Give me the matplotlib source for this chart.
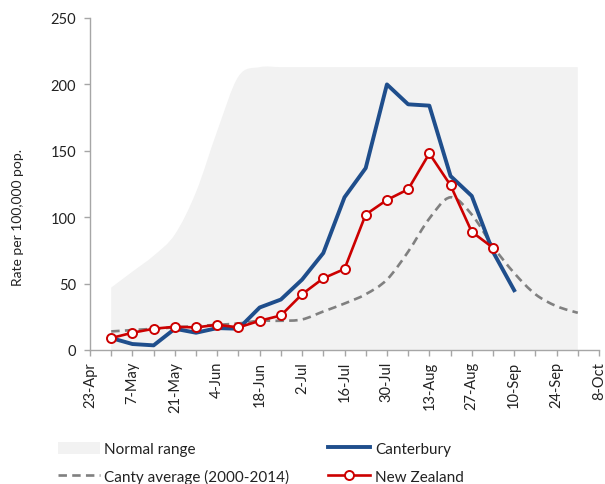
import matplotlib
matplotlib.use("Agg")
import matplotlib.pyplot as plt
from matplotlib.path import Path
from matplotlib.patches import PathPatch, Patch
from matplotlib.lines import Line2D
import numpy as np

plt.rcParams['font.family'] = ['Lato', 'DejaVu Sans']

# weekly categories (week starting)
weeks = ["23-Apr", "30-Apr", "7-May", "14-May", "21-May", "28-May", "4-Jun", "11-Jun",
         "18-Jun", "25-Jun", "2-Jul", "9-Jul", "16-Jul", "23-Jul", "30-Jul", "6-Aug",
         "13-Aug", "20-Aug", "27-Aug", "3-Sep", "10-Sep", "17-Sep", "24-Sep", "1-Oct", "8-Oct"]

# series (start at week index 1 = 30-Apr)
canterbury = [9, 4.5, 3.5, 16, 13, 16.5, 16, 32, 38, 53, 73, 115, 137, 200, 185, 184, 131, 116, 74, 45]
new_zealand = [9, 13, 16, 17.5, 17, 19, 17, 22, 26, 42, 54, 61, 102, 113, 121, 148, 124, 89, 77]
canty_avg = [14, 15, 16, 17, 18, 19, 20, 22, 22, 23, 29, 35, 42, 53, 74, 99, 115, 102, 78, 58, 42, 33, 28]
normal_upper = [47, 59, 71, 87, 119, 165, 206, 213, 213, 213, 213, 213, 213, 213, 213, 213,
                213, 213, 213, 213, 213, 213, 213]

BLUE = "#1f4e8c"
RED = "#cc0000"
GREY = "#808080"
FILL = "#f2f2f2"


def smooth_path_codes(xs, ys):
    """Excel-like smoothed line as cubic Bezier path segments."""
    pts = np.column_stack([xs, ys]).astype(float)
    n = len(pts)
    verts = [pts[0]]
    codes = [Path.MOVETO]
    for i in range(n - 1):
        p0 = pts[i - 1] if i > 0 else pts[i]
        p1 = pts[i]
        p2 = pts[i + 1]
        p3 = pts[i + 2] if i + 2 < n else pts[i + 1]
        c1 = p1 + (p2 - p0) / 6.0
        c2 = p2 - (p3 - p1) / 6.0
        verts += [c1, c2, p2]
        codes += [Path.CURVE4] * 3
    return verts, codes


fig = plt.figure(figsize=(6.05, 4.85), dpi=100)
ax = fig.add_axes([90 / 605, 1 - 351 / 485, (599 - 90) / 605, (351 - 19) / 485])

# normal range (filled area, smoothed top)
xr = np.arange(1, 1 + len(normal_upper))
v, c = smooth_path_codes(xr, normal_upper)
verts = [(xr[0], 0)] + [(xr[0], normal_upper[0])] + v[1:] + [(xr[-1], 0), (xr[0], 0)]
codes = [Path.MOVETO, Path.LINETO] + c[1:] + [Path.LINETO, Path.CLOSEPOLY]
ax.add_patch(PathPatch(Path(verts, codes), facecolor=FILL, edgecolor='none', zorder=1))

# Canty average (smoothed dashed)
xa = np.arange(1, 1 + len(canty_avg))
v, c = smooth_path_codes(xa, canty_avg)
ax.add_patch(PathPatch(Path(v, c), facecolor='none', edgecolor=GREY, lw=1.9,
                       linestyle=(0, (3.2, 2)), zorder=2))

# Canterbury
xc = np.arange(1, 1 + len(canterbury))
ax.plot(xc, canterbury, color=BLUE, lw=2.8, zorder=3, solid_joinstyle='round')

# New Zealand
xn = np.arange(1, 1 + len(new_zealand))
ax.plot(xn, new_zealand, color=RED, lw=1.9, marker='o', markersize=6.5,
        markerfacecolor='white', markeredgecolor=RED, markeredgewidth=1.4, zorder=4)

ax.set_xlim(0, len(weeks) - 1)
ax.set_ylim(0, 250)
ax.set_yticks([0, 50, 100, 150, 200, 250])
ax.set_xticks(range(0, len(weeks), 2))
ax.set_xticklabels(weeks[::2], rotation=90)
ax.set_xticks(range(len(weeks)), minor=True)

for s in ['top', 'right']:
    ax.spines[s].set_visible(False)
for s in ['left', 'bottom']:
    ax.spines[s].set_color('#a6a6a6')
    ax.spines[s].set_linewidth(1.0)
ax.tick_params(axis='both', which='both', color='#a6a6a6', length=4, width=1.0,
               labelsize=10.5, labelcolor='#222222')
ax.tick_params(axis='y', pad=6)
ax.tick_params(axis='x', pad=4)

fig.text(18 / 605, 1 - 218 / 485, "Rate per 100,000 pop.", rotation=90,
         ha='center', va='center', fontsize=10, color='#222222')

handles = [
    Patch(facecolor=FILL, edgecolor='none'),
    Line2D([0], [0], color=GREY, lw=1.9, linestyle=(0, (3.2, 2))),
    Line2D([0], [0], color=BLUE, lw=2.8),
    Line2D([0], [0], color=RED, lw=1.9, marker='o', markersize=6.5,
           markerfacecolor='white', markeredgecolor=RED, markeredgewidth=1.4),
]
labels = ["Normal range", "Canty average (2000-2014)", "Canterbury", "New Zealand"]
leg = fig.legend(handles, labels, ncol=2, loc='upper left',
                 bbox_to_anchor=(50 / 605, 1 - 435 / 485), frameon=False,
                 fontsize=11, handlelength=2.75, handleheight=0.9, handletextpad=0.3,
                 columnspacing=2.55, labelspacing=0.85, borderpad=0)
for t in leg.get_texts():
    t.set_color('#222222')

fig.savefig("out.png", dpi=100)
